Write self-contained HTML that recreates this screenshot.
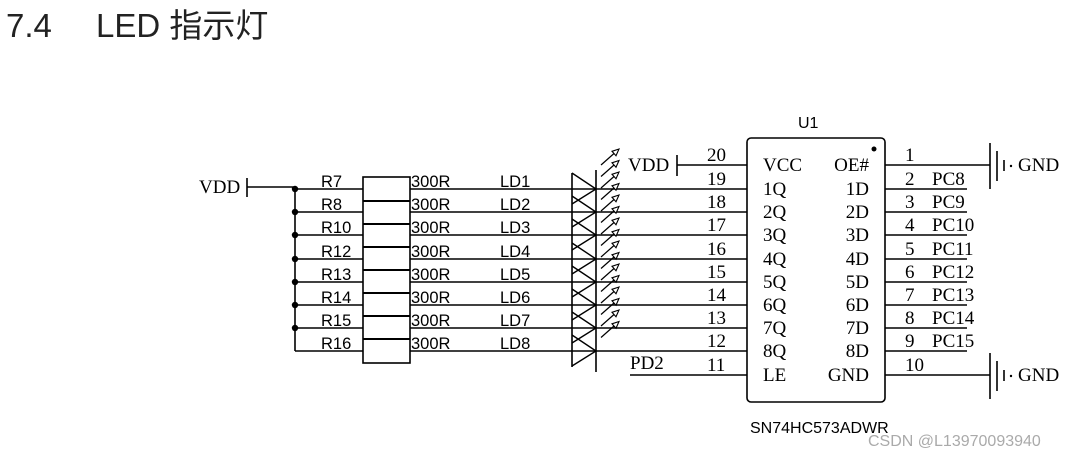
<!DOCTYPE html>
<html><head><meta charset="utf-8"><style>
body{margin:0;background:#fff;width:1080px;height:456px;overflow:hidden}
</style></head><body>
<svg width="1080" height="456" xmlns="http://www.w3.org/2000/svg" style="position:absolute;left:0;top:0">
<g font-family="Liberation Sans, Noto Sans CJK SC, sans-serif" font-size="33" fill="#222">
<text x="6" y="37">7.4</text><text x="96" y="37">LED 指示灯</text>
</g>
<g stroke="#000" stroke-width="1.6" fill="none">
<line x1="247" y1="178" x2="247" y2="197"/>
<line x1="247" y1="187" x2="295" y2="187"/>
<line x1="295" y1="187" x2="295" y2="351"/>
<rect x="363" y="177" width="47" height="186"/>
<line x1="572" y1="173" x2="572" y2="367"/>
<line x1="596" y1="170" x2="596" y2="372"/>
<rect x="747" y="138" width="138" height="264" rx="4"/>
<line x1="677" y1="155" x2="677" y2="176"/>
<line x1="677" y1="165" x2="747" y2="165"/>
<line x1="630" y1="375" x2="747" y2="375"/>
<line x1="885" y1="165" x2="990" y2="165"/>
<line x1="885" y1="375" x2="990" y2="375"/>
<line x1="990" y1="143" x2="990" y2="189"/>
<line x1="997" y1="151" x2="997" y2="181"/>
<line x1="1004" y1="160" x2="1004" y2="171"/>
<line x1="990" y1="353" x2="990" y2="399"/>
<line x1="997" y1="361" x2="997" y2="391"/>
<line x1="1004" y1="370" x2="1004" y2="381"/>
<path d="M295 189H363M410 189H747M295 212H363M410 212H747M295 235H363M410 235H747M295 259H363M410 259H747M295 282H363M410 282H747M295 305H363M410 305H747M295 328H363M410 328H747M295 351H363M410 351H747"/>
<path d="M885 189H967M885 212H967M885 235H967M885 259H967M885 282H967M885 305H967M885 328H967M885 351H967"/>
<path stroke-width="2" d="M363 201H410M363 224H410M363 247H410M363 270H410M363 293H410M363 316H410M363 339H410"/>
<path stroke-width="1.4" d="M572 173L596 189L572 204M572 196L596 212L572 227M572 219L596 235L572 250M572 243L596 259L572 274M572 266L596 282L572 297M572 289L596 305L572 320M572 312L596 328L572 343M572 335L596 351L572 366"/>
<path stroke-width="1.2" d="M601 165L614 153.5M601 176.5L614 165M601 188L614 176.5M601 199.5L614 188M601 211L614 199.5M601 222.5L614 211M601 234L614 222.5M601 245.5L614 234M601 257L614 245.5M601 268.5L614 257M601 280L614 268.5M601 291.5L614 280M601 303L614 291.5M601 314.5L614 303M601 326L614 314.5M601 337.5L614 326"/>
</g>
<g fill="#fff" stroke="#000" stroke-width="1.1">
<path d="M619 149L616 155.7L612 151.3ZM619 160.5L616 167.2L612 162.8ZM619 172L616 178.7L612 174.3ZM619 183.5L616 190.2L612 185.8ZM619 195L616 201.7L612 197.3ZM619 206.5L616 213.2L612 208.8ZM619 218L616 224.7L612 220.3ZM619 229.5L616 236.2L612 231.8ZM619 241L616 247.7L612 243.3ZM619 252.5L616 259.2L612 254.8ZM619 264L616 270.7L612 266.3ZM619 275.5L616 282.2L612 277.8ZM619 287L616 293.7L612 289.3ZM619 298.5L616 305.2L612 300.8ZM619 310L616 316.7L612 312.3ZM619 321.5L616 328.2L612 323.8Z"/>
</g>
<g fill="#000">
<circle cx="874" cy="149" r="2.5"/>
<circle cx="295" cy="189" r="3.2"/><circle cx="295" cy="212" r="3.2"/><circle cx="295" cy="235" r="3.2"/><circle cx="295" cy="259" r="3.2"/><circle cx="295" cy="282" r="3.2"/><circle cx="295" cy="305" r="3.2"/><circle cx="295" cy="328" r="3.2"/>
<circle cx="1011" cy="166" r="1.2"/><circle cx="1011" cy="376" r="1.2"/>
</g>
<g font-family="Liberation Sans, sans-serif" font-size="16.5" fill="#000">
<text x="321" y="187">R7</text><text x="321" y="210">R8</text><text x="321" y="233">R10</text><text x="321" y="257">R12</text><text x="321" y="280">R13</text><text x="321" y="303">R14</text><text x="321" y="326">R15</text><text x="321" y="349">R16</text>
<text x="411" y="187">300R</text><text x="411" y="210">300R</text><text x="411" y="233">300R</text><text x="411" y="257">300R</text><text x="411" y="280">300R</text><text x="411" y="303">300R</text><text x="411" y="326">300R</text><text x="411" y="349">300R</text>
<text x="500" y="187">LD1</text><text x="500" y="210">LD2</text><text x="500" y="233">LD3</text><text x="500" y="257">LD4</text><text x="500" y="280">LD5</text><text x="500" y="303">LD6</text><text x="500" y="326">LD7</text><text x="500" y="349">LD8</text>
<text x="798" y="128" font-size="16">U1</text>
<text x="750" y="433" font-size="16">SN74HC573ADWR</text>
</g>
<text x="868" y="446" font-family="Liberation Sans, sans-serif" font-size="16" fill="#aaa">CSDN @L13970093940</text>
<g font-family="Liberation Serif, serif" font-size="19" fill="#000">
<text x="199" y="193">VDD</text>
<text x="628" y="171">VDD</text>
<text x="630" y="369">PD2</text>
<text x="1018" y="171">GND</text>
<text x="1018" y="381">GND</text>
<text x="707" y="161">20</text><text x="707" y="185">19</text><text x="707" y="208">18</text><text x="707" y="231">17</text><text x="707" y="255">16</text><text x="707" y="278">15</text><text x="707" y="301">14</text><text x="707" y="324">13</text><text x="707" y="347">12</text><text x="707" y="371">11</text>
<text x="763" y="171">VCC</text><text x="763" y="195">1Q</text><text x="763" y="218">2Q</text><text x="763" y="241">3Q</text><text x="763" y="265">4Q</text><text x="763" y="288">5Q</text><text x="763" y="311">6Q</text><text x="763" y="334">7Q</text><text x="763" y="357">8Q</text><text x="763" y="381">LE</text>
<g text-anchor="end"><text x="869" y="171">OE#</text><text x="869" y="195">1D</text><text x="869" y="218">2D</text><text x="869" y="241">3D</text><text x="869" y="265">4D</text><text x="869" y="288">5D</text><text x="869" y="311">6D</text><text x="869" y="334">7D</text><text x="869" y="357">8D</text><text x="869" y="381">GND</text></g>
<text x="905" y="161">1</text><text x="905" y="185">2</text><text x="905" y="208">3</text><text x="905" y="231">4</text><text x="905" y="255">5</text><text x="905" y="278">6</text><text x="905" y="301">7</text><text x="905" y="324">8</text><text x="905" y="347">9</text><text x="905" y="371">10</text>
<text x="932" y="185">PC8</text><text x="932" y="208">PC9</text><text x="932" y="231">PC10</text><text x="932" y="255">PC11</text><text x="932" y="278">PC12</text><text x="932" y="301">PC13</text><text x="932" y="324">PC14</text><text x="932" y="347">PC15</text>
</g>
</svg>
</body></html>
